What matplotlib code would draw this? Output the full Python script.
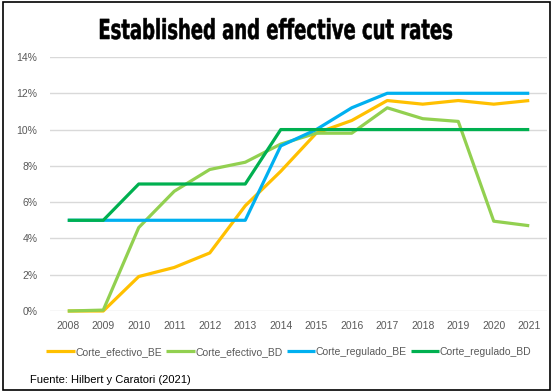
import matplotlib; matplotlib.use("Agg")
import matplotlib.pyplot as plt
from matplotlib.patches import Rectangle, PathPatch
from matplotlib.textpath import TextPath
from matplotlib.font_manager import FontProperties
from matplotlib.transforms import Affine2D
from matplotlib.ticker import FuncFormatter

years = list(range(2008, 2022))
efectivo_be = [0, 0, 1.9, 2.4, 3.2, 5.8, 7.7, 9.8, 10.5, 11.6, 11.4, 11.6, 11.4, 11.6]
efectivo_bd = [0, 0.05, 4.6, 6.6, 7.8, 8.2, 9.2, 9.8, 9.8, 11.2, 10.6, 10.45, 4.95, 4.7]
regulado_be = [5, 5, 5, 5, 5, 5, 9.1, 10, 11.2, 12, 12, 12, 12, 12]
regulado_bd = [5, 5, 7, 7, 7, 7, 10, 10, 10, 10, 10, 10, 10, 10]

series = [
    ("Corte_efectivo_BE", efectivo_be, "#FFC000"),
    ("Corte_efectivo_BD", efectivo_bd, "#92D050"),
    ("Corte_regulado_BE", regulado_be, "#00B0F0"),
    ("Corte_regulado_BD", regulado_bd, "#00B050"),
]
title = "Established and effective cut rates"

plt.rcParams["font.family"] = ["Liberation Sans", "DejaVu Sans"]
W, H = 558, 392
fig = plt.figure(figsize=(W / 100, H / 100), dpi=100)

# outer frame
fig.add_artist(Rectangle((3 / W, 2 / H), 547 / W, 388 / H, transform=fig.transFigure,
                         fill=False, edgecolor="black", lw=1.2))

ax = fig.add_axes([50 / W, 1 - 311 / H, 497 / W, 254 / H])
x = list(range(len(years)))
for name, vals, col in series:
    ax.plot(x, vals, color=col, lw=2.3, label=name, clip_on=False, solid_capstyle="butt")

ax.set_xlim(-0.5, len(years) - 0.5)
ax.set_ylim(0, 14)
ax.set_yticks(range(0, 15, 2))
ax.yaxis.set_major_formatter(FuncFormatter(lambda v, p: f"{int(v)}%"))
ax.set_xticks(x)
ax.set_xticklabels([str(y) for y in years])
ax.grid(axis="y", color="#d9d9d9", lw=1)
ax.set_axisbelow(True)
for s in ax.spines.values():
    s.set_visible(False)
ax.tick_params(length=0, labelsize=7.5, colors="#595959", pad=7)
ax.tick_params(axis="y", pad=9)

# title: condensed heavy look -> squeeze a bold text path horizontally (pixel coords)
tp = TextPath((0, 0), title, size=1, prop=FontProperties(family="DejaVu Sans", weight="bold"))
ext = tp.get_extents()
sx = 352 / ext.width
sy = 27.5
tr = Affine2D().translate(-ext.x0 - ext.width / 2, 0).scale(sx, sy).translate(276, H - 39)
fig.add_artist(PathPatch(tp, transform=tr, facecolor="black", edgecolor="black", lw=0.4))

fig.legend(loc="center", bbox_to_anchor=(289 / W, 1 - 352 / H), ncol=4, frameon=False,
           fontsize=7.5, handlelength=2.7, handletextpad=0.05, columnspacing=0.45,
           labelcolor="#595959")
fig.text(30 / W, 1 - 380 / H, "Fuente: Hilbert y Caratori (2021)", ha="left", va="center",
         fontsize=8, color="black")

fig.savefig("out.png", dpi=100)
